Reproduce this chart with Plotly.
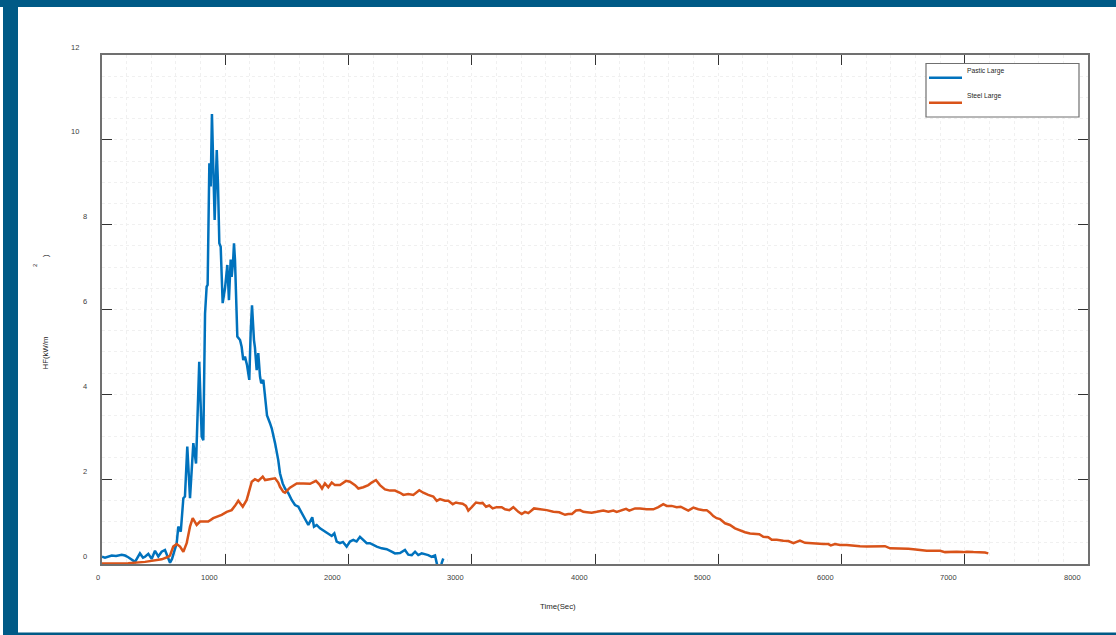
import plotly.graph_objects as go

# Heat flux records (time in seconds, HF in kW/m^2)
time_plastic = [0, 24, 79, 114, 160, 187, 213, 243, 268, 308, 333, 349, 376, 403, 430, 457, 484, 511,
                533, 552, 568, 590, 606, 619, 639, 660, 673, 692, 714, 741, 763, 789, 809, 822, 836,
                849, 857, 871, 882, 892, 903, 914, 931, 941, 952, 963, 979, 998, 1017, 1030, 1044,
                1052, 1063, 1071, 1079, 1087, 1098, 1120, 1133, 1146, 1160, 1176, 1195, 1206, 1217,
                1233, 1241, 1255, 1268, 1282, 1292, 1309, 1323, 1339, 1363, 1377, 1404, 1430, 1444,
                1466, 1485, 1512, 1539, 1566, 1593, 1620, 1647, 1674, 1688, 1706, 1720, 1742, 1769,
                1796, 1836, 1864, 1885, 1904, 1931, 1955, 1985, 2012, 2039, 2066, 2093, 2120, 2148,
                2174, 2201, 2229, 2269, 2310, 2350, 2377, 2418, 2458, 2485, 2513, 2540, 2566, 2594,
                2621, 2647, 2675, 2702, 2716, 2726, 2750, 2756, 2769]
hf_plastic = [0.17, 0.15, 0.2, 0.19, 0.22, 0.2, 0.16, 0.1, 0.05, 0.25, 0.15, 0.17, 0.24, 0.12, 0.31,
              0.18, 0.29, 0.33, 0.15, 0.03, 0.12, 0.35, 0.49, 0.88, 0.76, 1.55, 1.59, 2.77, 1.55,
              2.85, 2.37, 4.77, 3.0, 2.92, 5.9, 6.54, 6.58, 9.45, 8.9, 10.61, 8.9, 8.11, 9.76, 8.97,
              7.56, 7.48, 6.15, 6.5, 7.05, 6.22, 7.18, 6.77, 7.1, 7.56, 7.17, 6.3, 5.36, 5.28, 5.12,
              4.81, 4.89, 4.7, 4.34, 5.44, 6.1, 5.28, 5.1, 4.57, 4.97, 4.42, 4.26, 4.34, 3.87, 3.5,
              3.32, 3.2, 2.85, 2.45, 2.14, 1.9, 1.78, 1.67, 1.51, 1.39, 1.35, 1.2, 1.08, 0.92, 1.0,
              1.1, 0.88, 0.92, 0.84, 0.79, 0.72, 0.66, 0.72, 0.53, 0.49, 0.52, 0.41, 0.53, 0.57,
              0.53, 0.64, 0.57, 0.49, 0.49, 0.45, 0.41, 0.37, 0.35, 0.29, 0.25, 0.26, 0.33, 0.22,
              0.21, 0.29, 0.21, 0.25, 0.23, 0.21, 0.17, 0.2, 0.02, -0.1, -0.1, 0.02, 0.13]

time_steel = [0, 213, 349, 484, 538, 552, 578, 606, 633, 660, 687, 714, 736, 768, 795, 862, 903, 944,
              971, 1012, 1052, 1079, 1106, 1142, 1174, 1215, 1241, 1268, 1304, 1323, 1363, 1404,
              1430, 1444, 1471, 1485, 1525, 1580, 1633, 1688, 1736, 1763, 1785, 1809, 1836, 1864,
              1890, 1931, 1980, 2012, 2053, 2080, 2120, 2161, 2188, 2223, 2255, 2296, 2337, 2377,
              2418, 2445, 2485, 2526, 2574, 2607, 2647, 2688, 2716, 2742, 2783, 2810, 2846, 2872,
              2900, 2926, 2953, 2972, 3000, 3034, 3067, 3088, 3116, 3142, 3170, 3202, 3243, 3270,
              3305, 3337, 3378, 3405, 3432, 3459, 3505, 3554, 3608, 3662, 3710, 3757, 3783, 3813,
              3846, 3878, 3905, 3935, 3973, 4014, 4067, 4108, 4149, 4176, 4217, 4252, 4278, 4325,
              4365, 4419, 4473, 4514, 4554, 4582, 4622, 4663, 4695, 4730, 4757, 4798, 4838, 4879,
              4906, 4933, 4960, 4987, 5014, 5055, 5095, 5136, 5176, 5217, 5258, 5298, 5333, 5366,
              5406, 5434, 5474, 5528, 5569, 5610, 5637, 5663, 5704, 5744, 5799, 5853, 5893, 5913,
              5947, 5988, 6042, 6096, 6150, 6205, 6259, 6313, 6353, 6394, 6448, 6502, 6543, 6583,
              6637, 6692, 6746, 6800, 6840, 6880, 6935, 6989, 7016, 7070, 7124, 7164, 7191]
hf_steel = [0.01, 0.02, 0.05, 0.11, 0.17, 0.2, 0.41, 0.47, 0.41, 0.29, 0.49, 0.88, 1.08, 0.92, 1.0,
            1.0, 1.08, 1.12, 1.16, 1.23, 1.27, 1.37, 1.49, 1.35, 1.51, 1.94, 2.0, 1.96, 2.06, 1.98,
            2.0, 2.02, 1.92, 1.82, 1.7, 1.68, 1.8, 1.9, 1.9, 1.89, 1.96, 1.88, 1.78, 1.9, 1.81,
            1.92, 1.86, 1.86, 1.96, 1.94, 1.86, 1.78, 1.81, 1.86, 1.92, 1.98, 1.86, 1.76, 1.73,
            1.73, 1.68, 1.63, 1.65, 1.63, 1.74, 1.68, 1.63, 1.59, 1.49, 1.53, 1.49, 1.49, 1.41,
            1.45, 1.43, 1.42, 1.37, 1.26, 1.34, 1.45, 1.43, 1.44, 1.35, 1.38, 1.31, 1.34, 1.34,
            1.29, 1.27, 1.34, 1.23, 1.18, 1.23, 1.2, 1.31, 1.29, 1.27, 1.23, 1.22, 1.16, 1.18,
            1.18, 1.26, 1.27, 1.23, 1.22, 1.21, 1.23, 1.26, 1.23, 1.26, 1.23, 1.27, 1.3, 1.26,
            1.31, 1.31, 1.29, 1.29, 1.34, 1.41, 1.37, 1.37, 1.34, 1.35, 1.29, 1.26, 1.33, 1.29,
            1.27, 1.27, 1.21, 1.13, 1.08, 1.06, 0.96, 0.92, 0.84, 0.79, 0.75, 0.72, 0.7, 0.7,
            0.64, 0.63, 0.57, 0.57, 0.55, 0.54, 0.49, 0.53, 0.55, 0.5, 0.49, 0.49, 0.47, 0.47,
            0.44, 0.47, 0.45, 0.45, 0.43, 0.42, 0.41, 0.41, 0.41, 0.42, 0.37, 0.37, 0.37, 0.36,
            0.35, 0.33, 0.31, 0.31, 0.31, 0.28, 0.29, 0.29, 0.28, 0.29, 0.28, 0.28, 0.27, 0.25]

x_ticks = [0, 1000, 2000, 3000, 4000, 5000, 6000, 7000, 8000]
y_ticks = [0, 2, 4, 6, 8, 10, 12]
series_names = ["Pastic Large", "Steel Large"]
series_colors = ["#0072BD", "#D95319"]

# Page geometry (pixels)
W, H = 1116, 635
L, R, T, B = 102, 28, 55, 71
PW, PH = W - L - R, H - T - B


def px(xp):
    return (xp - L) / PW


def py(yp):
    return (H - B - yp) / PH


FONT = "Liberation Sans, Arial, sans-serif"
BAND = "#005a86"
GRID = "#f0f0f0"
GRID_DASH = "3px,3px"

fig = go.Figure()
fig.add_trace(go.Scatter(x=time_plastic, y=hf_plastic, mode="lines", name=series_names[0],
                         line=dict(color=series_colors[0], width=2.5)))
fig.add_trace(go.Scatter(x=time_steel, y=hf_steel, mode="lines", name=series_names[1],
                         line=dict(color=series_colors[1], width=2.5)))

axis_common = dict(showline=True, linecolor="#707070", linewidth=1.5, mirror="ticks",
                   ticks="inside", ticklen=10, tickwidth=1, tickcolor="#333333",
                   showticklabels=False, zeroline=False,
                   showgrid=True, gridcolor=GRID, gridwidth=1, griddash=GRID_DASH)

fig.update_xaxes(range=[0, 8000], tickvals=x_ticks,
                 minor=dict(dtick=200, showgrid=True, gridcolor=GRID, griddash=GRID_DASH),
                 **axis_common)
fig.update_yaxes(range=[0, 12], tickvals=y_ticks,
                 minor=dict(dtick=0.5, showgrid=True, gridcolor=GRID, griddash=GRID_DASH),
                 **axis_common)

annotations = []
# x tick labels
for v in x_ticks:
    s = str(v)
    annotations.append(dict(x=v, xref="x", y=0, yref="paper", text=s, showarrow=False,
                            xanchor="center", yanchor="middle", xshift=-4 * len(s), yshift=-13,
                            font=dict(family=FONT, size=7.5, color="#404040")))
# y tick labels
for v in y_ticks:
    s = str(v)
    annotations.append(dict(x=0, xref="paper", y=v, yref="y", text=s, showarrow=False,
                            xanchor="center", yanchor="middle", xshift=-(8 + 9.5 * len(s)),
                            yshift=8, font=dict(family=FONT, size=7.5, color="#404040")))

# axis titles
annotations.append(dict(x=px(558), y=py(606), xref="paper", yref="paper", text="Time(Sec)",
                        showarrow=False, xanchor="center", yanchor="middle",
                        font=dict(family=FONT, size=7.8, color="#262626")))
annotations.append(dict(x=px(44.5), y=py(353), xref="paper", yref="paper", text="HF(kW/m",
                        textangle=-90, showarrow=False, xanchor="center", yanchor="middle",
                        font=dict(family=FONT, size=7.8, color="#262626")))
annotations.append(dict(x=px(34.5), y=py(265.5), xref="paper", yref="paper", text="2",
                        textangle=-90, showarrow=False, xanchor="center", yanchor="middle",
                        font=dict(family=FONT, size=6, color="#262626")))
annotations.append(dict(x=px(45.5), y=py(255.5), xref="paper", yref="paper", text=")",
                        textangle=-90, showarrow=False, xanchor="center", yanchor="middle",
                        font=dict(family=FONT, size=7.8, color="#262626")))

shapes = []
# frame bands around the page
for x0, x1, y0, y1 in [(0, W, 0, 7), (3, 18, 0, H), (3, W, 632.5, H)]:
    shapes.append(dict(type="rect", xref="paper", yref="paper", x0=px(x0), x1=px(x1),
                       y0=py(y1), y1=py(y0), fillcolor=BAND, line=dict(width=0), layer="above"))

# legend box
shapes.append(dict(type="rect", xref="paper", yref="paper", x0=px(926), x1=px(1079),
                   y0=py(117), y1=py(63.5), fillcolor="white",
                   line=dict(color="#707070", width=1.2), layer="above"))
for i, (name, color) in enumerate(zip(series_names, series_colors)):
    ly = 77.7 + 25 * i
    shapes.append(dict(type="line", xref="paper", yref="paper", x0=px(929), x1=px(962),
                       y0=py(ly), y1=py(ly), line=dict(color=color, width=2.5), layer="above"))
    annotations.append(dict(x=px(964.5), y=py(ly - 7), xref="paper", yref="paper", text=name,
                            showarrow=False, xanchor="left", yanchor="middle",
                            font=dict(family=FONT, size=6.7, color="#262626")))

fig.update_layout(width=W, height=H, autosize=False,
                  margin=dict(l=L, r=R, t=T, b=B, pad=0),
                  paper_bgcolor="white", plot_bgcolor="white",
                  showlegend=False, annotations=annotations, shapes=shapes)

fig.write_html("out.html")
